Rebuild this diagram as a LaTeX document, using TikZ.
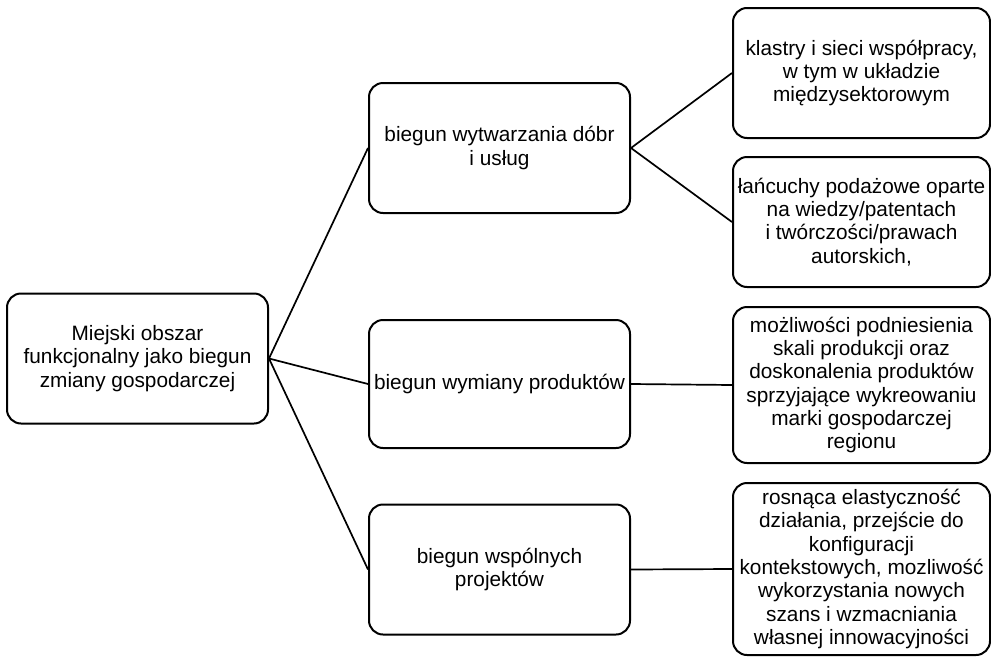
\documentclass[tikz,border=0pt]{standalone}
\usepackage{fontspec}
\setmainfont{Liberation Sans}
\usetikzlibrary{positioning}
\tikzset{%
  pole box/.style={draw, line width=2pt, rounded corners=14pt, align=center,
  minimum width=261pt, minimum height=130pt, inner sep=0pt,
  font=\fontsize{20.8}{23.3}\selectfont},%
  link/.style={line width=1.7pt}%
}

\begin{document}
\begin{tikzpicture}[x=1pt, y=-1pt] % bieguny zmiany gospodarczej

    \useasboundingbox (0,0) rectangle (991,659);

    \def\xMid{499.5} % middle column
    \def\xRight{861.5} % right column

    % root
    \node[pole box] (root) at (137.5,358.5) {Miejski obszar\\funkcjonalny jako biegun\\zmiany gospodarczej};

    % bieguny
    \node[pole box] (wytw) at (\xMid,148) {biegun wytwarzania dóbr\\i usług};
    \node[pole box, minimum height=128pt] (wymiana) at (\xMid,384) {biegun wymiany produktów};
    \node[pole box] (projekty) at (\xMid,569.5) {biegun wspólnych\\projektów};

    % efekty
    \node[pole box, minimum width=257pt] (klastry) at (\xRight,73) {klastry i sieci współpracy,\\w tym w układzie\\międzysektorowym};
    \node[pole box, minimum width=257pt] (lancuchy) at (\xRight,222) {łańcuchy podażowe oparte\\na wiedzy/patentach\\i twórczości/prawach\\autorskich,};
    \node[pole box, minimum width=257pt, minimum height=156pt] (skala) at (\xRight,385) {możliwości podniesienia\\skali produkcji oraz\\doskonalenia produktów\\sprzyjające wykreowaniu\\marki gospodarczej\\regionu};
    \node[pole box, minimum width=257pt, minimum height=172pt] (elast) at (\xRight,569) {rosnąca elastyczność\\działania, przejście do\\konfiguracji\\kontekstowych, mozliwość\\wykorzystania nowych\\szans i wzmacniania\\własnej innowacyjności};

    \draw[link] (root.east) -- (wytw.west);
    \draw[link] (root.east) -- (wymiana.west);
    \draw[link] (root.east) -- (projekty.west);

    \draw[link] (wytw.east) -- (klastry.west);
    \draw[link] (wytw.east) -- (lancuchy.west);
    \draw[link] (wymiana.east) -- (skala.west);
    \draw[link] (projekty.east) -- (elast.west);

\end{tikzpicture}
\end{document}
